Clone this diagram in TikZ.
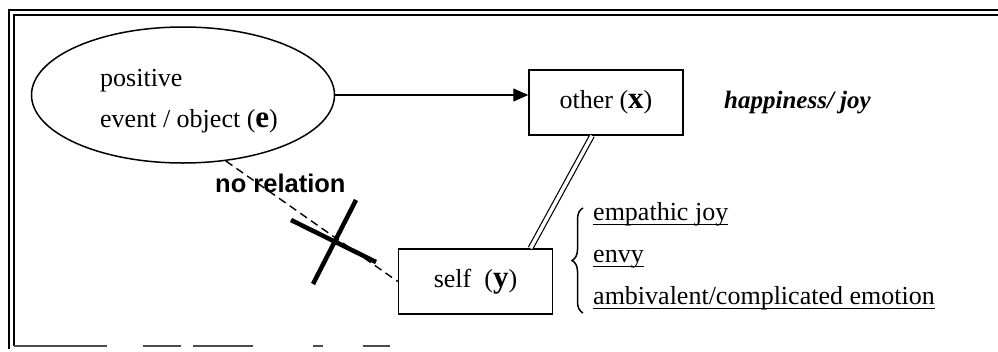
\documentclass[tikz,border=0pt]{standalone}
\usepackage{fontspec}
\setmainfont{Liberation Serif}
\setsansfont{Liberation Sans}
\usetikzlibrary{shapes.geometric,arrows.meta,decorations.pathreplacing,calc}
\newcommand\myunder[1]{\setbox0\hbox{#1}\rlap{\rule[-0.2em]{\wd0}{1.4pt}}\box0}
\newcommand\bigb[1]{{\fontsize{31}{31}\selectfont\bfseries #1}}
\tikzset{
  txt/.style={font=\fontsize{26}{41}\selectfont, inner sep=0pt},
  boxnode/.style={draw, line width=1.5pt, minimum width=154pt, minimum height=65pt, inner sep=0pt, font=\fontsize{26}{28}\selectfont},
  framel/.style={line width=1.7pt},
  conn/.style={line width=1.4pt},
}
\begin{document}
\begin{tikzpicture}[x=1pt,y=-1pt]
\useasboundingbox (0,0) rectangle (998,351);
% frame
\draw[framel] (998,10) -- (9,10) -- (9,349);
\draw[framel] (998,15) -- (14,15) -- (14,346);
\draw[line width=1.2pt, black!70, dash pattern=on 93pt off 36pt on 38pt off 12pt on 60pt off 60pt on 10pt off 40pt on 27pt off 700pt] (14,346) -- (998,346);
% nodes
\node[draw, ellipse, line width=1.5pt, minimum width=303pt, minimum height=136pt, inner sep=0pt] (e) at (183,95) {};
\node[txt, anchor=west, align=left] (et) at (100,101) {positive\\event / object (\bigb{e})};
\node[boxnode] (x) at (606,102.5) {other (\bigb{x})};
\node[boxnode] (y) at (475.5,281.5) {self\ \ (\bigb{y})};
\node[txt, font=\fontsize{25}{28}\selectfont\bfseries\itshape, anchor=west] (h) at (724,103) {happiness/ joy};
\node[inner sep=0pt, font=\fontsize{25.5}{28}\selectfont\sffamily\bfseries, anchor=west] (nr) at (215,183) {no relation};
% connectors
\draw[conn, -{Triangle[length=15pt,width=13pt]}] (e.east) -- (x.west |- e.east);
\draw[line width=1.2pt, double distance=3.5pt] ([xshift=-14pt]x.south) -- ([xshift=55pt]y.north);
\draw[conn, dash pattern=on 8pt off 5pt] (e.-57) -- (y.west);
% cross
\coordinate (c1a) at (291,220); \coordinate (c1b) at (376,262);
\coordinate (c2a) at (356,200); \coordinate (c2b) at (313,284);
\draw[line width=4.5pt] (c1a) -- (c1b);
\draw[line width=4.5pt] (c2a) -- (c2b);
% brace and items
\draw[line width=1.5pt, decorate, decoration={brace, amplitude=11pt}] (583,313) -- (583,208) coordinate (bt);
\node[txt, anchor=base west] (i1) at (593,220) {\myunder{empathic joy}};
\node[txt, anchor=base west] (i2) at (593,262) {\myunder{envy}};
\node[txt, anchor=base west] (i3) at (593,304) {\myunder{ambivalent/complicated emotion}};
\end{tikzpicture}
\end{document}
